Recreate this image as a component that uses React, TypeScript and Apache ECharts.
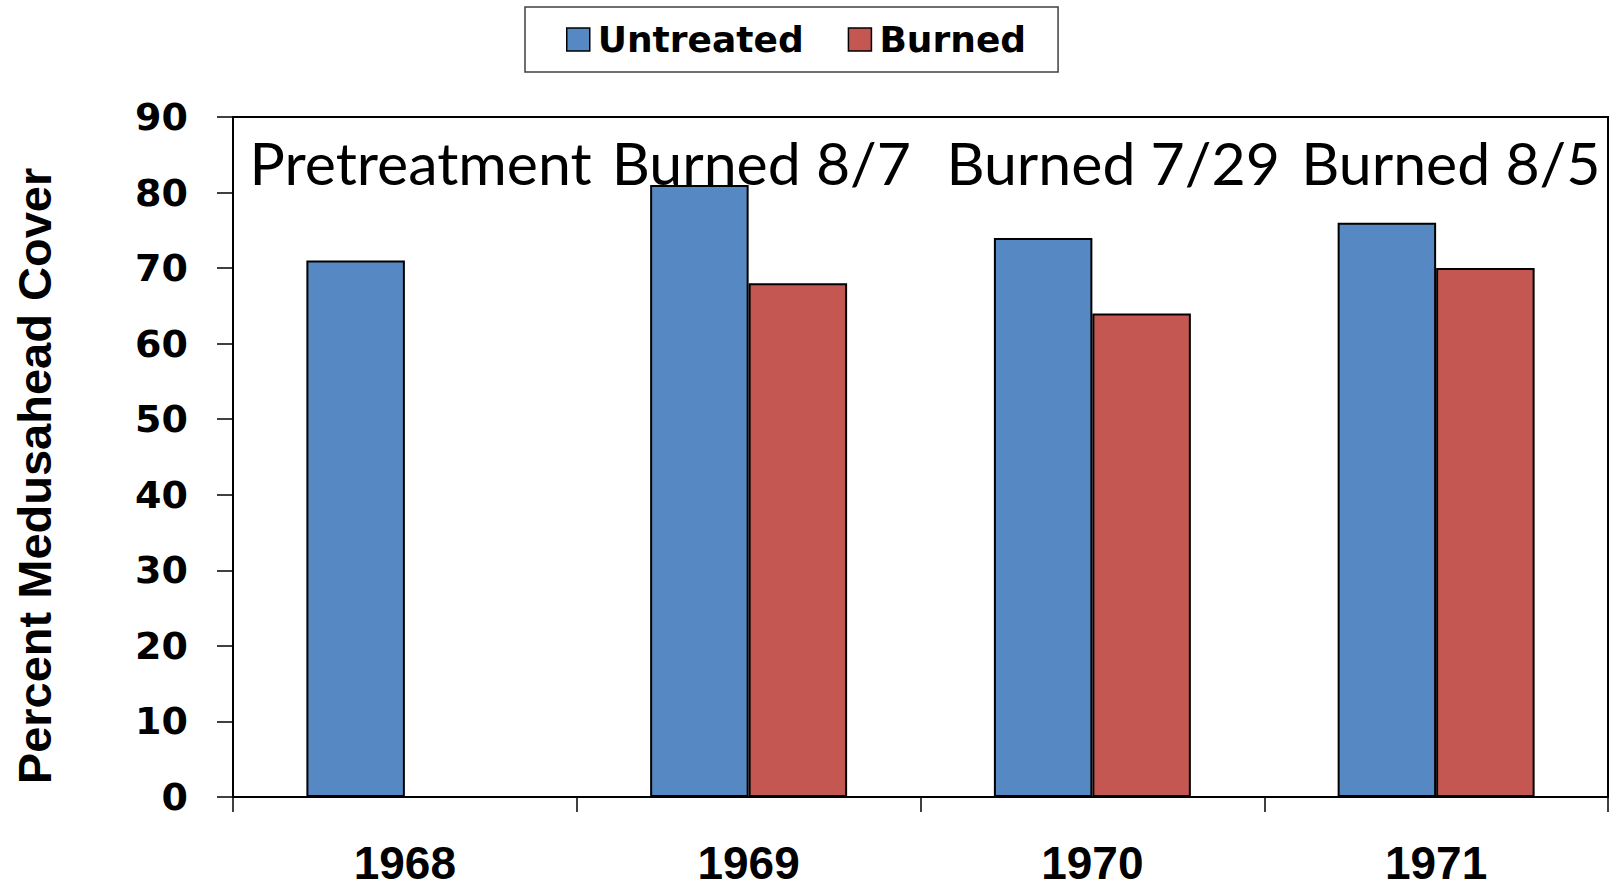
import React, { useEffect, useRef } from "react";
import * as echarts from "echarts";

const categories = ["1968", "1969", "1970", "1971"];
const untreated = [71, 81, 74, 76];
const burned: (number | null)[] = [null, 68, 64, 70];
const periodLabels = ["Pretreatment", "Burned 8/7", "Burned 7/29", "Burned 8/5"];
const periodLabelValue = 84.0;
const periodLabelOffsets = [65, 62, 70, 64];
const yTicks = { min: 0, max: 90, interval: 10 };

export default function App() {
  const ref = useRef<HTMLDivElement>(null);
  useEffect(() => {
    document.body.style.margin = "0";
    if (!ref.current) return;
    const chart = echarts.init(ref.current, undefined, { renderer: "svg" });
    chart.setOption({
      animation: false,
      backgroundColor: "#fff",
      grid: {
        left: 233,
        right: 8,
        top: 117,
        bottom: 91,
        containLabel: false,
        show: true,
        borderColor: "#000",
        borderWidth: 2,
      },
      legend: {
        left: 525,
        top: 7,
        padding: [10, 32, 10, 41],
        borderColor: "#404040",
        borderWidth: 1.5,
        itemWidth: 23,
        itemHeight: 23,
        itemGap: 44,
        icon: "rect",
        itemStyle: { borderColor: "#000", borderWidth: 1.5 },
        textStyle: {
          fontFamily: "DejaVu Sans",
          fontWeight: "bold",
          fontSize: 36,
          lineHeight: 45,
          color: "#000",
          padding: [0, 0, 0, 3],
        },
        data: ["Untreated", "Burned"],
      },
      xAxis: {
        type: "category",
        data: categories,
        axisLine: { show: true, lineStyle: { color: "#000", width: 2 } },
        axisTick: { show: true, length: 15, alignWithLabel: false, lineStyle: { color: "#000", width: 1.5 } },
        axisLabel: {
          fontFamily: "Liberation Sans",
          fontWeight: "bold",
          fontSize: 46,
          lineHeight: 40,
          color: "#000",
          margin: 46,
        },
        splitLine: { show: false },
      },
      yAxis: {
        type: "value",
        min: yTicks.min,
        max: yTicks.max,
        interval: yTicks.interval,
        axisLine: { show: true, lineStyle: { color: "#000", width: 2 } },
        axisTick: { show: true, inside: false, length: 16, lineStyle: { color: "#000", width: 1.5 } },
        axisLabel: {
          fontFamily: "DejaVu Sans",
          fontWeight: "bold",
          fontSize: 38,
          color: "#000",
          margin: 45,
        },
        splitLine: { show: false },
      },
      graphic: [
        {
          type: "text",
          x: 34.5,
          y: 476,
          rotation: Math.PI / 2,
          style: {
            text: "Percent Medusahead Cover",
            fontFamily: "Liberation Sans",
            fontWeight: "bold",
            fontSize: 47,
            fill: "#000",
            textAlign: "center",
            textVerticalAlign: "middle",
          },
        },
      ],
      series: [
        {
          name: "Untreated",
          type: "bar",
          data: untreated,
          barGap: "0%",
          barCategoryGap: "42.7%",
          itemStyle: { color: "#5689C3", borderColor: "#000", borderWidth: 2 },
          markPoint: {
            symbol: "rect",
            symbolSize: 1,
            itemStyle: { color: "rgba(0,0,0,0)", borderWidth: 0 },
            label: {
              show: true,
              position: "inside",
              fontFamily: "Lato",
              fontSize: 59,
              color: "#000",
            },
            data: periodLabels.map((t, i) => ({
              coord: [i, periodLabelValue],
              label: { formatter: t, offset: [periodLabelOffsets[i], 0] },
            })),
          },
        },
        {
          name: "Burned",
          type: "bar",
          data: burned,
          barGap: "0%",
          barCategoryGap: "42.7%",
          itemStyle: { color: "#C45752", borderColor: "#000", borderWidth: 2 },
        },
      ],
    });
    return () => chart.dispose();
  }, []);
  return <div ref={ref} style={{ width: 1616, height: 888 }} />;
}
